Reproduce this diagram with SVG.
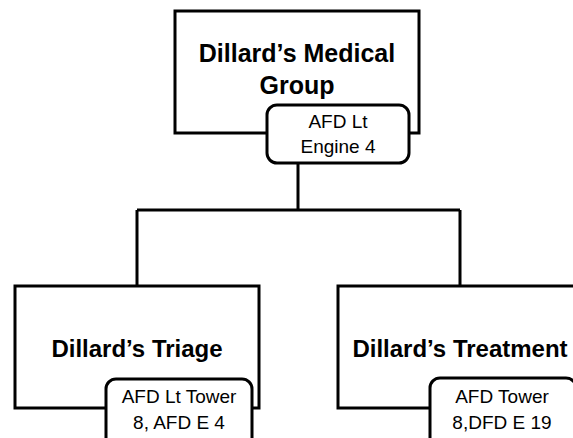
<svg xmlns="http://www.w3.org/2000/svg" width="573" height="438" viewBox="0 0 573 438">
<style>
.box{fill:#fff;stroke:#000;stroke-width:3}
.tag{fill:#fff;stroke:#000;stroke-width:3}
.conn{fill:none;stroke:#000;stroke-width:3}
.big{font-family:"Liberation Sans",Arial,sans-serif;font-weight:bold;fill:#000;text-anchor:middle}
.small{font-family:"Liberation Sans",Arial,sans-serif;font-size:19px;fill:#000;text-anchor:middle}
</style>
<rect width="573" height="438" fill="#fff"/>
<g id="connectors">
<path class="conn" d="M298,163 V210 M137,210 H460 M137,210 V286 M460,210 V286"/>
</g>
<g id="medical-group">
<rect class="box" x="175" y="11" width="244" height="122"/>
<text class="big" font-size="25" x="297" y="62">Dillard’s Medical</text>
<text class="big" font-size="25" x="297" y="94">Group</text>
<rect class="tag" x="267" y="105" width="142" height="58" rx="10"/>
<text class="small" x="338" y="128">AFD Lt</text>
<text class="small" x="338" y="153">Engine 4</text>
</g>
<g id="triage">
<rect class="box" x="15" y="286" width="244" height="122"/>
<text class="big" font-size="24" x="137" y="357">Dillard’s Triage</text>
<rect class="tag" x="106" y="379" width="146" height="72" rx="10"/>
<text class="small" x="179" y="403">AFD Lt Tower</text>
<text class="small" x="179" y="429">8, AFD E 4</text>
</g>
<g id="treatment">
<rect class="box" x="338" y="286" width="244" height="122"/>
<text class="big" font-size="24" x="460" y="357">Dillard’s Treatment</text>
<rect class="tag" x="430" y="378" width="146" height="72" rx="10"/>
<text class="small" x="502" y="403">AFD Tower</text>
<text class="small" x="502" y="429">8,DFD E 19</text>
</g>
</svg>
